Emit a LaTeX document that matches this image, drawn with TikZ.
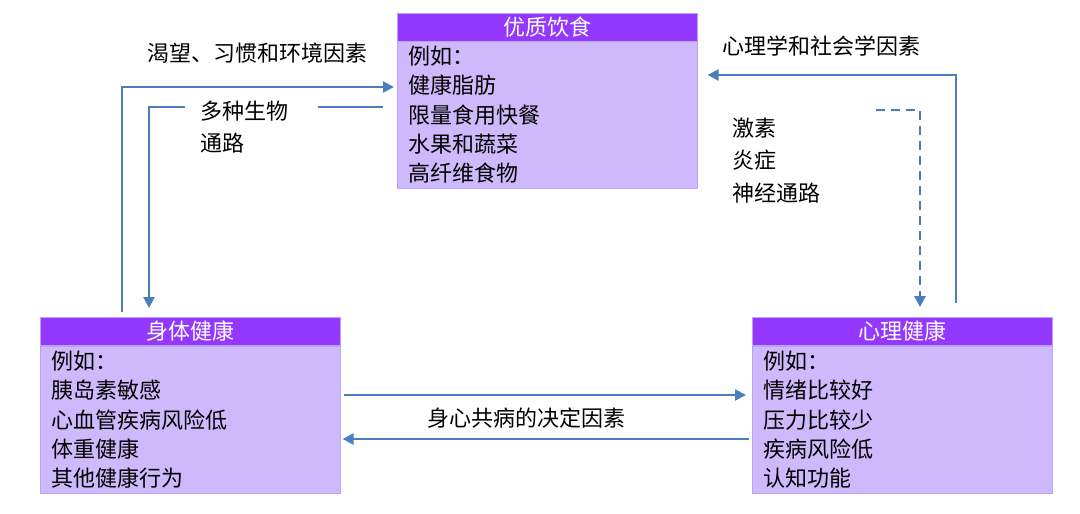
\documentclass[tikz,border=0pt]{standalone}
\usepackage{fontspec}
\setmainfont{Noto Sans CJK SC}
\usetikzlibrary{arrows.meta,calc}
\definecolor{hdr}{HTML}{9437FF}
\definecolor{bdy}{HTML}{CDB9FB}
\definecolor{bdr}{HTML}{BBA2F6}
\definecolor{arw}{HTML}{4A7EBB}
\begin{document}
\begin{tikzpicture}[x=1pt,y=-1pt,
  every node/.style={font=\fontsize{22}{29.3}\selectfont},
  header/.style={fill=hdr,draw=bdr,line width=0.6pt,minimum width=300pt,minimum height=28pt,inner sep=0pt,text=white,anchor=north west},
  body/.style={fill=bdy,draw=bdr,line width=0.6pt,minimum width=300pt,minimum height=147pt,text width=277pt,align=left,inner xsep=11pt,inner ysep=0pt,anchor=north west},
  lbl/.style={anchor=west,inner sep=0pt},
  conn/.style={draw=arw,line width=2.3pt},
  arr/.style={conn,-{Triangle[width=11pt,length=11pt]}},
  darr/.style={conn,dash pattern=on 9pt off 6pt,-{Triangle[width=11pt,length=11pt]}}
]
\useasboundingbox (0,0) rectangle (1080,514);
% boxes
\node[header] (dietH) at (397,13) {优质饮食};
\node[body] (diet) at (397,41) {例如：\\健康脂肪\\限量食用快餐\\水果和蔬菜\\高纤维食物};
\node[header] (physH) at (40,317) {身体健康};
\node[body] (phys) at (40,346) {例如：\\胰岛素敏感\\心血管疾病风险低\\体重健康\\其他健康行为};
\node[header] (mentH) at (752,317) {心理健康};
\node[body] (ment) at (752,346) {例如：\\情绪比较好\\压力比较少\\疾病风险低\\认知功能};
% labels
\node[lbl] (l1) at (147,53) {渴望、习惯和环境因素};
\node[lbl] (l2) at (200,111) {多种生物};
\node[lbl] (l3) at (200,143) {通路};
\node[lbl] (l4) at (722,46) {心理学和社会学因素};
\node[lbl] (l5) at (732,128) {激素};
\node[lbl] (l6) at (732,160) {炎症};
\node[lbl] (l7) at (732,193) {神经通路};
\node[lbl] (l8) at (427,418) {身心共病的决定因素};
% coordinates
\coordinate (c1) at (122,312);
\coordinate (c2) at (149,308);
\coordinate (c3) at (185,107);
\coordinate (c4) at (318,107);
\coordinate (c5) at (956,303);
\coordinate (c6) at (876,110);
\coordinate (c7) at (920,307);
% connectors
\draw[arr] (c1) |- ([xshift=-3pt,yshift=-5pt]dietH.south west |- 0,82);
\draw[conn] (diet.west |- c4) ++(-14,0) -- (c4);
\draw[arr] (c3) -| (c2);
\draw[arr] (c5) |- ([xshift=10pt]dietH.south east |- 0,75);
\draw[darr] (c6) -| (c7);
\draw[arr] ([xshift=3pt]phys.east |- 0,395) -- ([xshift=-6pt]ment.west |- 0,395);
\draw[arr] ([xshift=-3pt]ment.west |- 0,439) -- ([xshift=2pt]phys.east |- 0,439);
\end{tikzpicture}
\end{document}
